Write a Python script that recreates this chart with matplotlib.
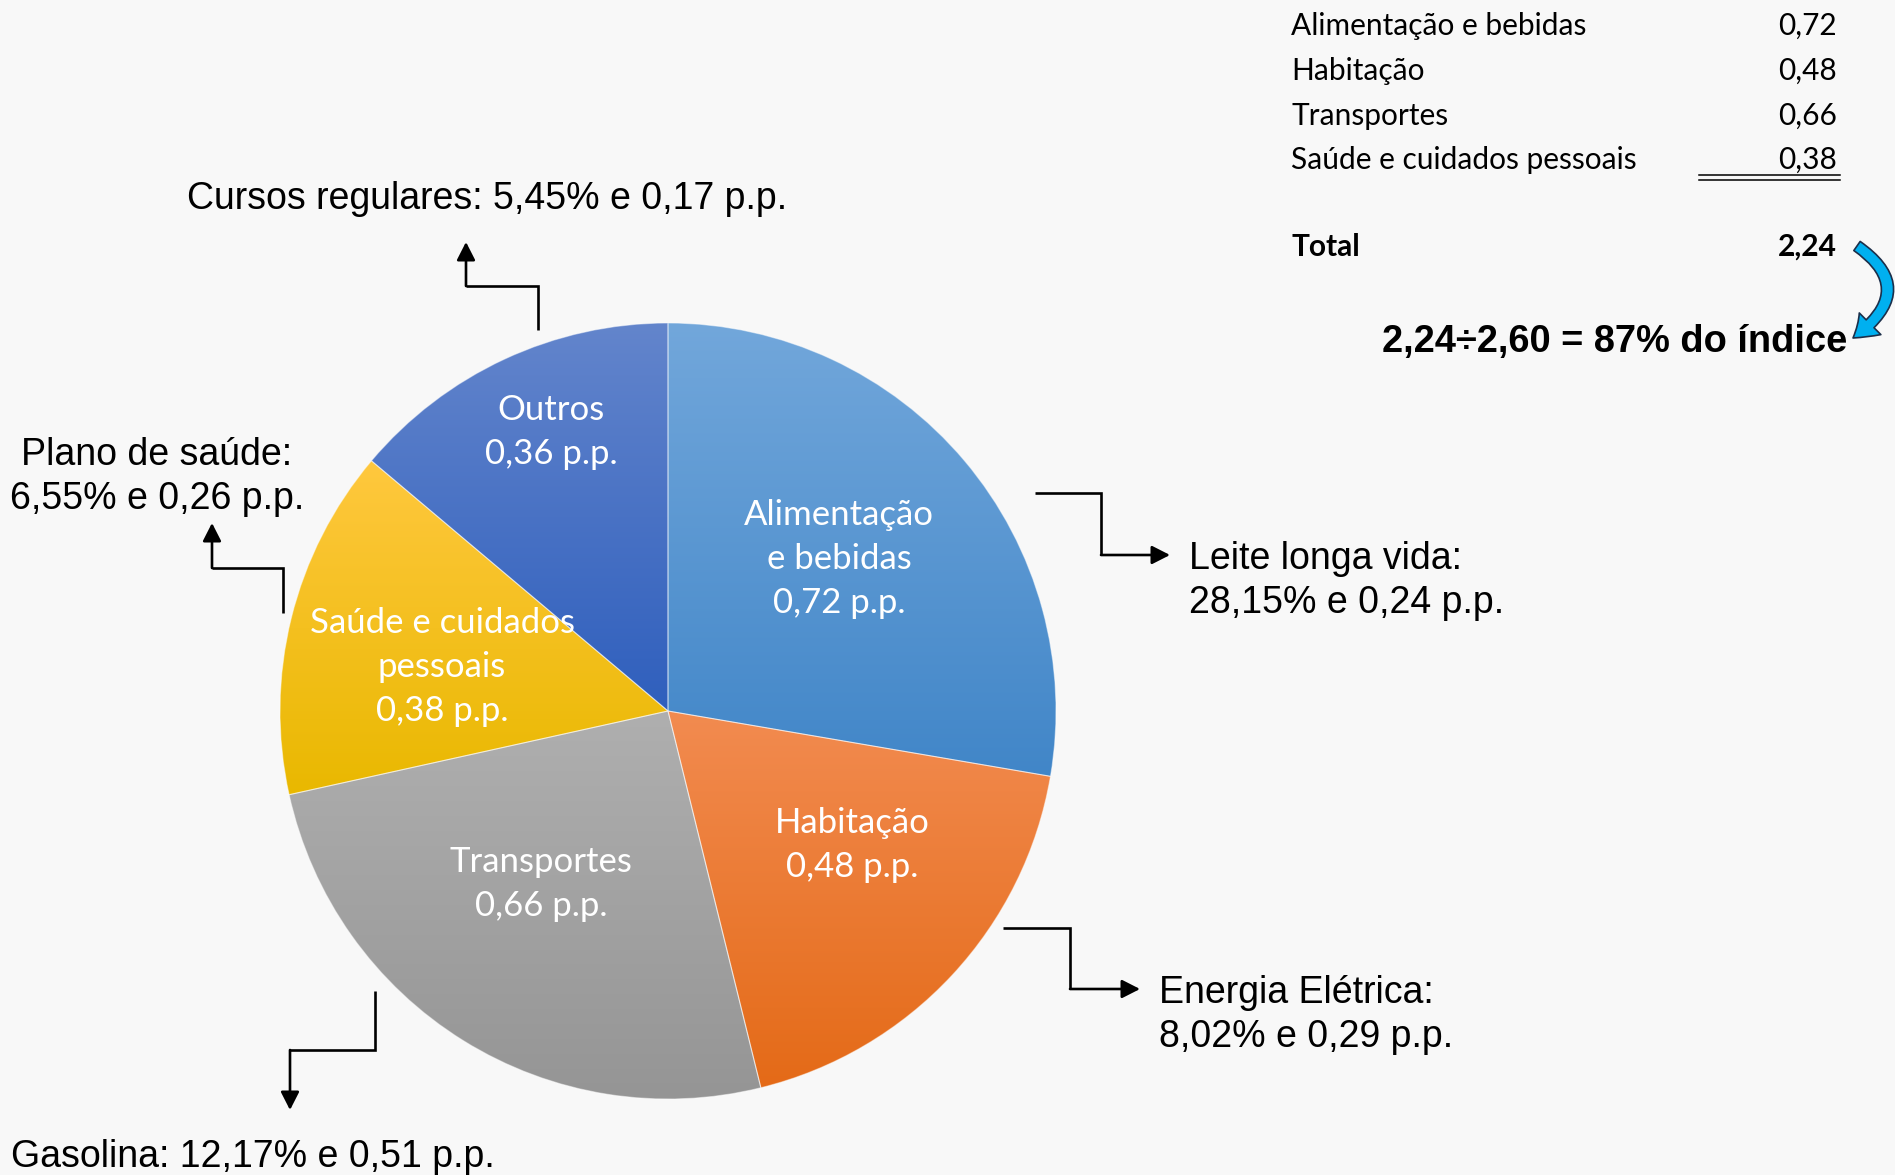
import numpy as np
import matplotlib.pyplot as plt
from matplotlib.colors import LinearSegmentedColormap
from matplotlib.patches import FancyArrowPatch
from matplotlib.path import Path

# contribuição de cada grupo no IPCA (p.p.)
grupos = ['Alimentação\ne bebidas', 'Habitação', 'Transportes', 'Saúde e cuidados\npessoais', 'Outros']
contrib = [0.72, 0.48, 0.66, 0.38, 0.36]
cor_topo = ['#72a7db', '#f28b50', '#afafaf', '#ffc83e', '#6385cc']
cor_base = ['#4186c8', '#e46a17', '#959595', '#e9b800', '#2f5fbd']

# quadro do canto
tab_nomes = ['Alimentação e bebidas', 'Habitação', 'Transportes', 'Saúde e cuidados pessoais']
tab_vals = [0.72, 0.48, 0.66, 0.38]
indice = 2.60
pct_indice = 87

# subitens em destaque
itens = ['Cursos regulares', 'Plano de saúde', 'Leite longa vida', 'Energia Elétrica', 'Gasolina']
itens_peso = [5.45, 6.55, 28.15, 8.02, 12.17]
itens_pp = [0.17, 0.26, 0.24, 0.29, 0.51]

br = lambda v: f'{v:.2f}'.replace('.', ',')

W, H = 1895, 1175
fig = plt.figure(figsize=(W / 100, H / 100), dpi=100)
fig.patch.set_facecolor('#f8f8f8')
ax = fig.add_axes([0, 0, 1, 1])
ax.set_facecolor('#f8f8f8')
Y = lambda y: H - y  # posições medidas a partir do topo

cx, cy, r = 668, Y(711), 388
wedges, _ = ax.pie(contrib, startangle=90, counterclock=False, center=(cx, cy), radius=r,
                   wedgeprops=dict(facecolor='none', edgecolor=(1, 1, 1, 0.45), linewidth=0.8, zorder=2))
grad = np.linspace(0, 1, 256).reshape(-1, 1)
for w, c0, c1 in zip(wedges, cor_topo, cor_base):
    bb = w.get_path().get_extents()
    cmap = LinearSegmentedColormap.from_list('g', [c1, c0])
    im = ax.imshow(grad, cmap=cmap, origin='lower', aspect='auto', zorder=1,
                   extent=[bb.x0, bb.x1, bb.y0, bb.y1], interpolation='bilinear')
    im.set_clip_path(w)

# rótulos dentro das fatias
pos_rot = [(839, 559), (852, 845), (541, 884), (442, 667), (551, 432)]
for g, v, (x, y) in zip(grupos, contrib, pos_rot):
    ax.text(x, Y(y), f'{g}\n{br(v)} p.p.', ha='center', va='center', color='white',
            fontsize=25, family='Lato', linespacing=1.48, zorder=3)

# textos dos subitens
txt = [f'{n}: {br(p)}% e {br(v)} p.p.' for n, p, v in zip(itens, itens_peso, itens_pp)]
arial = dict(fontsize=27, family='Liberation Sans', color='black', va='center')
ax.text(187, Y(199), txt[0], ha='left', **arial)
ax.text(157, Y(477), txt[1].replace(': ', ':\n'), ha='center', multialignment='center', linespacing=1.28, **arial)
ax.text(1189, Y(581), txt[2].replace(': ', ':\n'), ha='left', linespacing=1.28, **arial)
ax.text(1159, Y(1015), txt[3].replace(': ', ':\n'), ha='left', linespacing=1.28, **arial)
ax.text(11, Y(1157), txt[4], ha='left', **arial)

# setas em cotovelo
setas = [
    [(538, 330), (538, 286), (466, 286), (466, 242)],
    [(283, 613), (283, 568), (212, 568), (212, 523)],
    [(1035, 493), (1101, 493), (1101, 555), (1170, 555)],
    [(1003, 928), (1070, 928), (1070, 989), (1140, 989)],
    [(375, 991), (375, 1050), (290, 1050), (290, 1110)],
]
for s in setas:
    xs = [p[0] for p in s[:-1]]
    ys = [Y(p[1]) for p in s[:-1]]
    ax.plot(xs, ys, color='black', lw=1.9, solid_capstyle='butt', solid_joinstyle='miter', zorder=3)
    ax.annotate('', xy=(s[-1][0], Y(s[-1][1])), xytext=(s[-2][0], Y(s[-2][1])),
                arrowprops=dict(arrowstyle='-|>,head_length=0.55,head_width=0.28', color='black',
                                lw=1.9, shrinkA=0, shrinkB=0, mutation_scale=20), zorder=3)

# quadro da direita
calibri = dict(family='Lato', fontsize=21.5, color='black', va='center')
for nome, v, y in zip(tab_nomes, tab_vals, [26, 71, 116, 160]):
    ax.text(1291, Y(y), nome, ha='left', **calibri)
    ax.text(1837, Y(y), br(v), ha='right', **calibri)
for yl in (175, 179.5):
    ax.plot([1699, 1840], [Y(yl), Y(yl)], color='black', lw=1.1)
total = sum(tab_vals)
ax.text(1291, Y(247), 'Total', ha='left', fontweight='bold', **calibri)
ax.text(1837, Y(247), br(total), ha='right', fontweight='bold', **calibri)
ax.text(1847, Y(342), f'{br(total)}÷{br(indice)} = {pct_indice}% do índice', ha='right', va='center',
        fontsize=27.4, family='Liberation Sans', fontweight='bold', color='black')

# seta azul curva
curva = Path([(1857, Y(246)), (1920, Y(290)), (1853, Y(338))],
             [Path.MOVETO, Path.CURVE3, Path.CURVE3])
seta_azul = FancyArrowPatch(path=curva, arrowstyle='simple,head_length=0.8,head_width=1.1,tail_width=0.4',
                            mutation_scale=20, fc='#00b0f0', ec='#1c2f4a', lw=1.2, zorder=3)
ax.add_patch(seta_azul)

ax.set_xlim(0, W)
ax.set_ylim(0, H)
ax.set_aspect('auto')
ax.axis('off')

fig.savefig('out.png', dpi=100, facecolor=fig.get_facecolor())
